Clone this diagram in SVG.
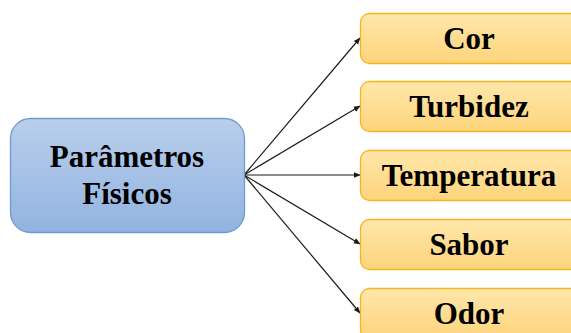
<svg xmlns="http://www.w3.org/2000/svg" width="571" height="333" viewBox="0 0 571 333">
  <defs>
    <linearGradient id="gBlue" x1="0" y1="0" x2="0" y2="1">
      <stop offset="0" stop-color="#b9cfeb"/>
      <stop offset="1" stop-color="#92b3e0"/>
    </linearGradient>
    <linearGradient id="gOrange" x1="0" y1="0" x2="0" y2="1">
      <stop offset="0" stop-color="#ffe7aa"/>
      <stop offset="1" stop-color="#fdd47c"/>
    </linearGradient>
    <marker id="arrow" viewBox="0 0 10 10" refX="9" refY="5" markerWidth="7" markerHeight="7" markerUnits="userSpaceOnUse" orient="auto">
      <path d="M0,1 L10,5 L0,9 z" fill="#1a1a1a"/>
    </marker>
    <style>
      .main { fill: url(#gBlue); stroke: #6e9bd4; stroke-width: 1.3; }
      .leaf { fill: url(#gOrange); stroke: #f4b51e; stroke-width: 1.3; }
      .label { font-family: 'Liberation Serif', 'Times New Roman', 'DejaVu Serif', serif; font-weight: 700; font-size: 31px; fill: #000; text-anchor: middle; }
      .edge { stroke: #1a1a1a; stroke-width: 1.2; fill: none; marker-end: url(#arrow); }
    </style>
  </defs>

  <g id="connectors">
    <line class="edge" x1="244" y1="175" x2="360" y2="38"/>
    <line class="edge" x1="244" y1="175" x2="360" y2="106"/>
    <line class="edge" x1="244" y1="175" x2="360" y2="175"/>
    <line class="edge" x1="244" y1="175" x2="360" y2="244"/>
    <line class="edge" x1="244" y1="175" x2="360" y2="313"/>
  </g>

  <g id="parametros-fisicos">
    <rect class="main" x="10.5" y="118.5" width="234" height="114" rx="20"/>
    <text class="label" x="127" y="167">Parâmetros</text>
    <text class="label" x="127" y="204">Físicos</text>
  </g>

  <g id="cor">
    <rect class="leaf" x="360.5" y="13.5" width="222" height="50" rx="9"/>
    <text class="label" x="469" y="48.5">Cor</text>
  </g>

  <g id="turbidez">
    <rect class="leaf" x="360.5" y="81.5" width="222" height="50" rx="9"/>
    <text class="label" x="469" y="116.5">Turbidez</text>
  </g>

  <g id="temperatura">
    <rect class="leaf" x="360.5" y="150.5" width="222" height="50" rx="9"/>
    <text class="label" x="469" y="186">Temperatura</text>
  </g>

  <g id="sabor">
    <rect class="leaf" x="360.5" y="219.5" width="222" height="50" rx="9"/>
    <text class="label" x="469" y="254.5">Sabor</text>
  </g>

  <g id="odor">
    <rect class="leaf" x="360.5" y="288.5" width="222" height="50" rx="9"/>
    <text class="label" x="469" y="323.5">Odor</text>
  </g>
</svg>
